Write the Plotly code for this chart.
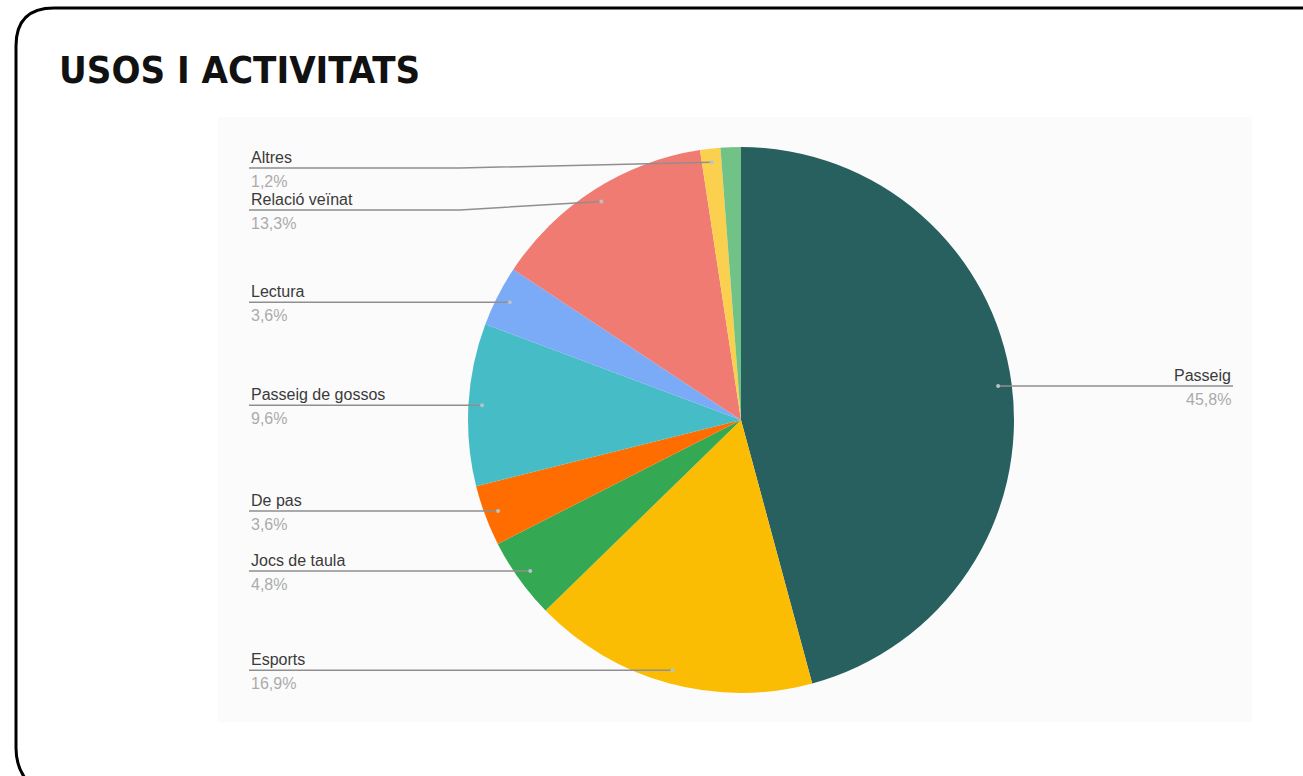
import math
import plotly.graph_objects as go

# ---------------- data ----------------
title_text = "USOS I ACTIVITATS"
categories = ["Passeig", "Esports", "Jocs de taula", "De pas", "Passeig de gossos",
              "Lectura", "Relació veïnat", "Altres", "Sense etiqueta"]
values = [45.8, 16.9, 4.8, 3.6, 9.6, 3.6, 13.3, 1.2, 1.2]
show_label = [True, True, True, True, True, True, True, True, False]
colors = ["#28605f", "#fbbc04", "#34a853", "#ff6d01", "#46bdc6",
          "#7baaf7", "#f07b72", "#fcd04f", "#71c287"]

# ---------------- layout constants ----------------
W, H = 1303, 776
CX, CY, R = 741, 420, 273
ANCHOR_R = 0.95
LEFT_X = 249
RIGHT_X = 1233
BEND_X = 460
MIN_GAP = 42
TOP_LIMIT = 168
FONT = "Liberation Sans, Arial, sans-serif"
NAME_COLOR = "#3a3a3a"
PCT_COLOR = "#ababab"
LINE_COLOR = "#8f8f8f"

total = sum(values)
cum = 0.0
anchors = []
for v in values:
    mid = (cum + v / 2) / total * 2 * math.pi
    anchors.append((CX + ANCHOR_R * R * math.sin(mid), CY - ANCHOR_R * R * math.cos(mid)))
    cum += v

fig = go.Figure()

# invisible helper trace to establish a pixel-based cartesian frame
fig.add_trace(go.Scatter(x=[0, W], y=[0, H], mode="markers",
                         marker=dict(opacity=0), hoverinfo="skip", showlegend=False))

fig.add_trace(go.Pie(
    labels=categories, values=values, sort=False, direction="clockwise", rotation=0,
    marker=dict(colors=colors, line=dict(width=0)),
    textinfo="none", hoverinfo="label+percent", showlegend=False,
    domain=dict(x=[(CX - R) / W, (CX + R) / W], y=[(H - (CY + R)) / H, (H - (CY - R)) / H]),
))

shapes = []
annotations = []

# chart background panel
shapes.append(dict(type="rect", xref="x", yref="y", x0=218, y0=117, x1=1252, y1=722,
                   fillcolor="#fbfbfb", line=dict(width=0), layer="below"))

# label placement
left_idx = [i for i in range(len(values)) if show_label[i] and anchors[i][0] < CX]
right_idx = [i for i in range(len(values)) if show_label[i] and anchors[i][0] >= CX]
left_idx.sort(key=lambda i: anchors[i][1])
right_idx.sort(key=lambda i: anchors[i][1])

def place(idx_list):
    out = {}
    prev = None
    for i in idx_list:
        y = max(anchors[i][1], TOP_LIMIT)
        if prev is not None:
            y = max(y, prev + MIN_GAP)
        out[i] = y
        prev = y
    return out

ly = place(left_idx)
ry = place(right_idx)

def pct(v):
    return f"{v / total * 100:.1f}".replace(".", ",") + "%"

for i, y in ly.items():
    ax, ay = anchors[i]
    if abs(y - ay) < 0.5:
        path = f"M {LEFT_X},{y} L {ax},{ay}"
    else:
        path = f"M {LEFT_X},{y} L {BEND_X},{y} L {ax},{ay}"
    shapes.append(dict(type="path", xref="x", yref="y", path=path,
                       line=dict(color=LINE_COLOR, width=1.5), layer="above"))
    annotations.append(dict(x=LEFT_X, y=y, xref="x", yref="y", text=categories[i],
                            xanchor="left", yanchor="bottom", showarrow=False,
                            font=dict(family=FONT, size=16, color=NAME_COLOR)))
    annotations.append(dict(x=LEFT_X, y=y + 3, xref="x", yref="y", text=pct(values[i]),
                            xanchor="left", yanchor="top", showarrow=False,
                            font=dict(family=FONT, size=16, color=PCT_COLOR)))

for i, y in ry.items():
    ax, ay = anchors[i]
    path = f"M {ax},{ay} L {RIGHT_X},{y}"
    shapes.append(dict(type="path", xref="x", yref="y", path=path,
                       line=dict(color=LINE_COLOR, width=1.5), layer="above"))
    annotations.append(dict(x=RIGHT_X, y=y, xref="x", yref="y", text=categories[i],
                            xanchor="right", yanchor="bottom", showarrow=False,
                            font=dict(family=FONT, size=16, color=NAME_COLOR)))
    annotations.append(dict(x=RIGHT_X, y=y + 3, xref="x", yref="y", text=pct(values[i]),
                            xanchor="right", yanchor="top", showarrow=False,
                            font=dict(family=FONT, size=16, color=PCT_COLOR)))

# anchor dots
for i in list(ly) + list(ry):
    ax, ay = anchors[i]
    shapes.append(dict(type="circle", xref="x", yref="y", x0=ax - 2, x1=ax + 2, y0=ay - 2, y1=ay + 2,
                       fillcolor="#b9c2c8", line=dict(width=0), layer="above"))

# outer rounded frame
shapes.append(dict(type="path", xref="x", yref="y",
                   path=f"M {W + 10},8 L 54,8 Q 16,8 16,46 L 16,748 Q 16,770 30,784",
                   line=dict(color="#000000", width=3), layer="above"))

# title
annotations.append(dict(x=57, y=70, xref="x", yref="y", text=f"<b>{title_text}</b>",
                        xanchor="left", yanchor="middle", showarrow=False,
                        font=dict(family="DejaVu Sans Condensed, Liberation Sans Narrow, sans-serif",
                                  size=38, color="#111111")))

fig.update_layout(
    width=W, height=H, autosize=False,
    margin=dict(l=0, r=0, t=0, b=0, pad=0),
    paper_bgcolor="#ffffff", plot_bgcolor="#ffffff",
    xaxis=dict(range=[0, W], visible=False, fixedrange=True, domain=[0, 1]),
    yaxis=dict(range=[H, 0], visible=False, fixedrange=True, domain=[0, 1]),
    shapes=shapes, annotations=annotations, showlegend=False,
)

fig.write_html("out.html", config={"displayModeBar": False},
               post_script="document.body.style.margin='0';document.body.style.overflow='hidden';")
